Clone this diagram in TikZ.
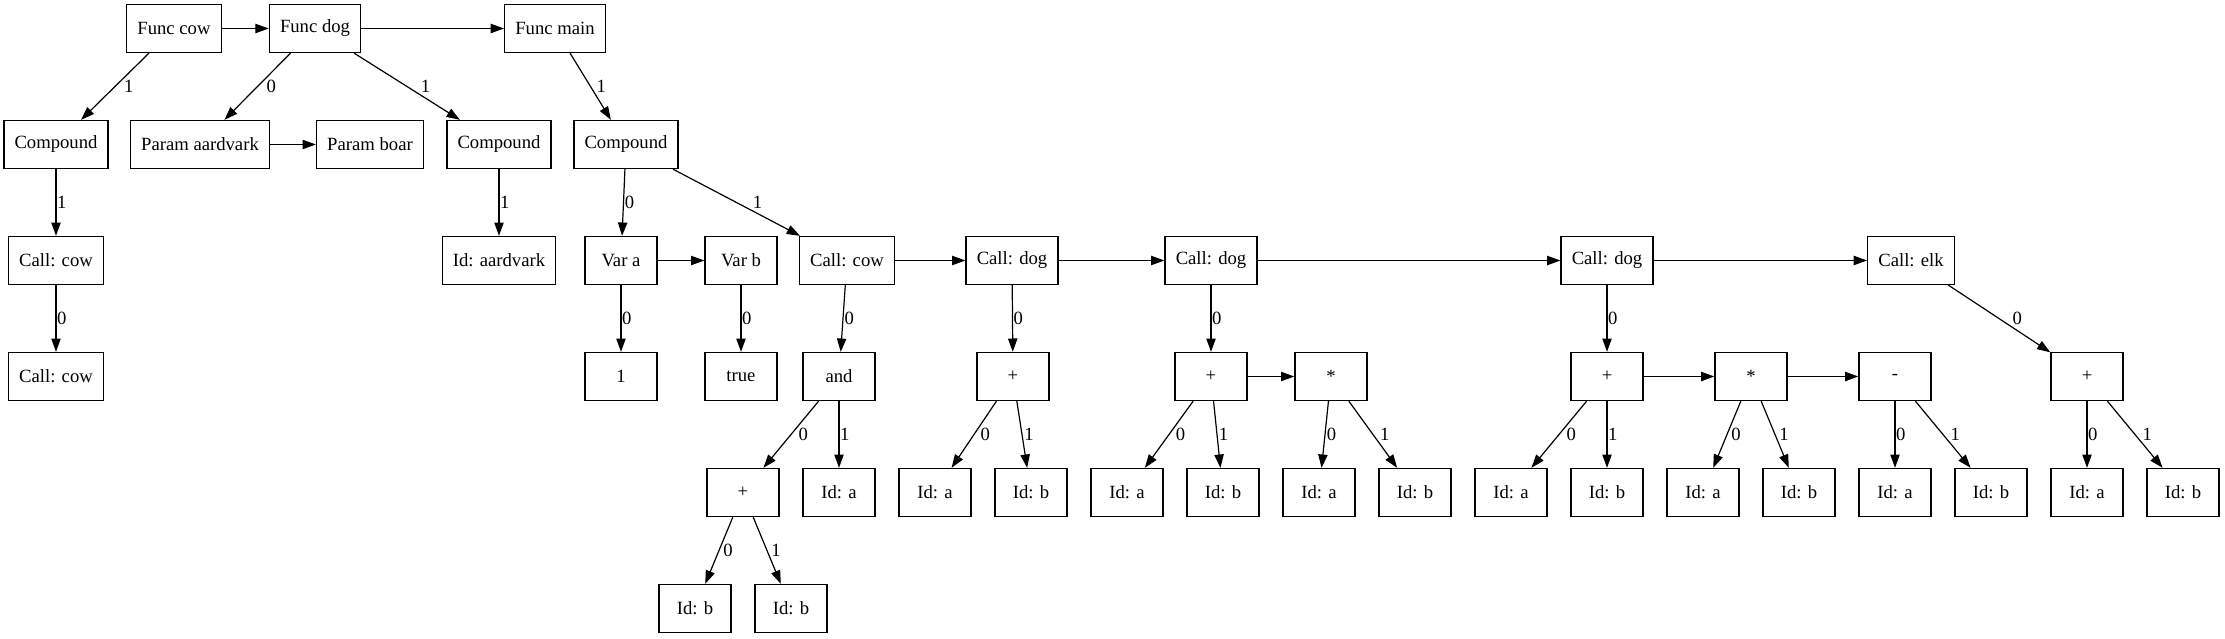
\documentclass[tikz,border=0pt]{standalone}
\usepackage{fontspec}
\setmainfont{Liberation Serif}
\usetikzlibrary{arrows.meta}
\newcommand{\tfont}{\fontsize{14}{16}\selectfont}
\tikzset{
  box/.style={draw, line width=1pt, rectangle, minimum width=54pt, minimum height=36pt,
              inner xsep=8pt, inner ysep=4pt, font=\tfont},
  e/.style={line width=0.9pt, -{Triangle[length=10pt,width=7pt]}},
  lab/.style={anchor=west, inner sep=0pt, font=\tfont},
  L/.style={lab, xshift=#1*0.75pt},
  L/.default=0.5
}
\begin{document}
\begin{tikzpicture}[x=0.75pt, y=-0.75pt]
\useasboundingbox (0,0) rectangle (2225,639);
\def\ra{28.5}\def\rb{144.5}\def\rc{260.5}\def\rd{376.5}\def\re{492.5}\def\rf{608.5}
% row 0
\node[box] (fcow) at (174,\ra) {Func cow};
\node[box] (fdog) at (315,\ra) {Func dog};
\node[box] (fmain) at (555,\ra) {Func main};
% row 1
\node[box] (cA) at (56,\rb) {Compound};
\node[box] (pa) at (200,\rb) {Param aardvark};
\node[box] (pb) at (370,\rb) {Param boar};
\node[box] (cB) at (499,\rb) {Compound};
\node[box] (cC) at (626,\rb) {Compound};
% row 2
\node[box] (ccA) at (56,\rc) {Call: cow};
\node[box] (idaa) at (499,\rc) {Id: aardvark};
\node[box] (va) at (621,\rc) {Var a};
\node[box] (vb) at (741,\rc) {Var b};
\node[box] (ccow) at (847,\rc) {Call: cow};
\node[box] (cd1) at (1012,\rc) {Call: dog};
\node[box] (cd2) at (1211,\rc) {Call: dog};
\node[box] (cd3) at (1607,\rc) {Call: dog};
\node[box] (celk) at (1911,\rc) {Call: elk};
% row 3
\node[box] (ccB) at (56,\rd) {Call: cow};
\node[box] (one) at (621,\rd) {1};
\node[box] (tru) at (741,\rd) {true};
\node[box] (and) at (839,\rd) {and};
\node[box] (p1) at (1013,\rd) {+};
\node[box] (p2) at (1211,\rd) {+};
\node[box] (s1) at (1331,\rd) {*};
\node[box] (p3) at (1607,\rd) {+};
\node[box] (s2) at (1751,\rd) {*};
\node[box] (mi) at (1895,\rd) {-};
\node[box] (p4) at (2087,\rd) {+};
% row 4
\node[box] (pp) at (743,\re) {+};
\node[box] (a1) at (839,\re) {Id: a};
\node[box] (a2) at (935,\re) {Id: a};
\node[box] (b2) at (1031,\re) {Id: b};
\node[box] (a3) at (1127,\re) {Id: a};
\node[box] (b3) at (1223,\re) {Id: b};
\node[box] (a4) at (1319,\re) {Id: a};
\node[box] (b4) at (1415,\re) {Id: b};
\node[box] (a5) at (1511,\re) {Id: a};
\node[box] (b5) at (1607,\re) {Id: b};
\node[box] (a6) at (1703,\re) {Id: a};
\node[box] (b6) at (1799,\re) {Id: b};
\node[box] (a7) at (1895,\re) {Id: a};
\node[box] (b7) at (1991,\re) {Id: b};
\node[box] (a8) at (2087,\re) {Id: a};
\node[box] (b8) at (2183,\re) {Id: b};
% row 5
\node[box] (bb1) at (695,\rf) {Id: b};
\node[box] (bb2) at (791,\rf) {Id: b};
% sibling edges
\draw[e] (fcow) -- (fdog);
\draw[e] (fdog) -- (fmain);
\draw[e] (pa) -- (pb);
\draw[e] (va) -- (vb);
\draw[e] (ccow) -- (cd1);
\draw[e] (cd1) -- (cd2);
\draw[e] (cd2) -- (cd3);
\draw[e] (cd3) -- (celk);
\draw[e] (p2) -- (s1);
\draw[e] (p3) -- (s2);
\draw[e] (s2) -- (mi);
% tree edges
\draw[e] (fcow) -- node[L=8.6]{1} (cA);
\draw[e] (fdog) -- node[L=8.4]{0} (pa);
\draw[e] (fdog) -- node[L=13.2]{1} (cB);
\draw[e] (fmain) -- node[L=5.4]{1} (cC);
\draw[e] (cA) -- node[L]{1} (ccA);
\draw[e] (cB) -- node[L]{1} (idaa);
\draw[e] (cC) -- node[L=0.8]{0} (va);
\draw[e] (cC) -- node[L=15.7]{1} (ccow);
\draw[e] (ccA) -- node[L]{0} (ccB);
\draw[e] (va) -- node[L]{0} (one);
\draw[e] (vb) -- node[L]{0} (tru);
\draw[e] (ccow) -- node[L=1]{0} (and);
\draw[e] (cd1) -- node[L]{0} (p1);
\draw[e] (cd2) -- node[L]{0} (p2);
\draw[e] (cd3) -- node[L]{0} (p3);
\draw[e] (celk) -- node[L=12.6]{0} (p4);
\draw[e] (and) -- node[L=7.1]{0} (pp);
\draw[e] (and) -- node[L]{1} (a1);
\draw[e] (p1) -- node[L=5.9]{0} (a2);
\draw[e] (p1) -- node[L=1.7]{1} (b2);
\draw[e] (p2) -- node[L=6.3]{0} (a3);
\draw[e] (p2) -- node[L=1.3]{1} (b3);
\draw[e] (s1) -- node[L=1.3]{0} (a4);
\draw[e] (s1) -- node[L=6.4]{1} (b4);
\draw[e] (p3) -- node[L=7.1]{0} (a5);
\draw[e] (p3) -- node[L]{1} (b5);
\draw[e] (s2) -- node[L=3.8]{0} (a6);
\draw[e] (s2) -- node[L=3.8]{1} (b6);
\draw[e] (mi) -- node[L]{0} (a7);
\draw[e] (mi) -- node[L=7.1]{1} (b7);
\draw[e] (p4) -- node[L]{0} (a8);
\draw[e] (p4) -- node[L=7.1]{1} (b8);
\draw[e] (pp) -- node[L=3.8]{0} (bb1);
\draw[e] (pp) -- node[L=3.8]{1} (bb2);
\end{tikzpicture}
\end{document}
